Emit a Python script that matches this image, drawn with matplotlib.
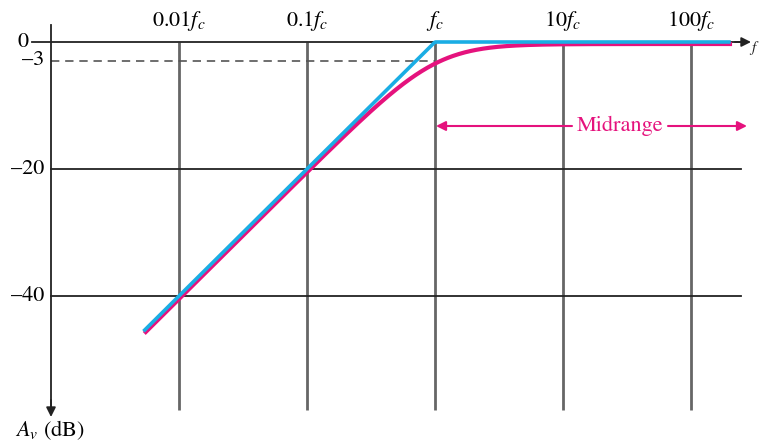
import numpy as np
import matplotlib.pyplot as plt
import matplotlib.transforms as mtransforms

plt.rcParams['font.family'] = ['STIXGeneral', 'DejaVu Serif']
plt.rcParams['mathtext.fontset'] = 'stix'

# decade grid (in units of fc) and their labels
decades = [0.01, 0.1, 1, 10, 100]
decade_labels = [r'$0.01f_c$', r'$0.1f_c$', r'$f_c$', r'$10f_c$', r'$100f_c$']
# dB levels shown on the vertical axis
db_levels = [0, -3, -20, -40]
db_labels = ['0', '\u20133', '\u201320', '\u201340']

# frequency range of the response curves (f/fc)
f_start = 0.0054
f_end = 198

blue = '#1AADE4'
magenta = '#E5127D'

fig = plt.figure(figsize=(7.61, 4.43), dpi=100)
ax = fig.add_axes([0, 0, 1, 1])
ax.set_xscale('log')
# pixel mapping: x = 51 + 128*(log10 f + 3), y = 42 - 6.35*dB
ax.set_xlim(10 ** (-3 - 51 / 128), 10 ** (-3 + 710 / 128))
ax.set_ylim(-401 / 6.35, 42 / 6.35)
ax.axis('off')


def fx(px):
    # frequency (f/fc) at a horizontal pixel position
    return 10 ** (-3 + (px - 51) / 128)


def dby(py):
    # dB at a vertical pixel position
    return (42 - py) / 6.35


f_axis = 0.001
db_bottom = dby(410)

# vertical gridlines at decades
for d in decades:
    ax.plot([d, d], [0, db_bottom], color='#666666', lw=2, solid_capstyle='butt', zorder=1)

# horizontal lines -20 and -40
for lv in [-20, -40]:
    ax.plot([f_axis, fx(741)], [lv, lv], color='#222222', lw=1.3, zorder=1)

# -3 dashed line
ax.plot([f_axis, 1], [-3, -3], color='#555555', lw=1.2, dashes=(5, 3.5), zorder=1)

# horizontal axis (0 dB) with arrow
ax.plot([fx(32), fx(741)], [0, 0], color='#222222', lw=1.3, zorder=2)
ax.annotate('', xy=(fx(751), 0), xytext=(fx(735), 0),
            arrowprops=dict(arrowstyle='-|>', color='#222222', lw=1.3,
                            mutation_scale=14, shrinkA=0, shrinkB=0))
ax.text(fx(760), dby(48), r'$f$', fontsize=11, ha='right', va='center', color='#222222')

# vertical axis with downward arrow
ax.plot([f_axis, f_axis], [dby(25), dby(410)], color='#222222', lw=1.3, zorder=2)
ax.annotate('', xy=(f_axis, dby(417)), xytext=(f_axis, dby(400)),
            arrowprops=dict(arrowstyle='-|>', color='#222222', lw=1.3,
                            mutation_scale=14, shrinkA=0, shrinkB=0))
ax.text(fx(50), dby(430), r'$A_v$ (dB)', fontsize=16, ha='center', va='center')

# dB labels ("0" sits left of the extended axis line)
for lv, lb in zip(db_levels, db_labels):
    if lv == 0:
        ax.text(fx(29), lv, lb, ha='right', va='center', fontsize=16)
    else:
        ax.annotate(lb, xy=(f_axis, lv), xytext=(-5, 1 if lv == -3 else 0),
                    textcoords='offset points', ha='right', va='center', fontsize=16)

# decade labels on top
for d, lb in zip(decades, decade_labels):
    ax.text(d, dby(21), lb, fontsize=16, ha='center', va='center')

# response curves
f = np.logspace(np.log10(f_start), np.log10(f_end), 600)
actual = -10 * np.log10(1 + (1 / f) ** 2)
ideal = np.where(f < 1, 20 * np.log10(f), 0)

off = mtransforms.offset_copy(ax.transData, fig=fig, x=1.0, y=-2.0, units='dots')
ax.plot(f, actual, color=magenta, lw=3, transform=off, zorder=3)
ax.plot(f, ideal, color=blue, lw=2.6, zorder=4)

# Midrange arrow
y_mid = dby(126)
ax.annotate('', xy=(fx(436), y_mid), xytext=(fx(572), y_mid),
            arrowprops=dict(arrowstyle='-|>', color=magenta, lw=1.5,
                            mutation_scale=14, shrinkA=0, shrinkB=0))
ax.annotate('', xy=(fx(747), y_mid), xytext=(fx(668), y_mid),
            arrowprops=dict(arrowstyle='-|>', color=magenta, lw=1.5,
                            mutation_scale=14, shrinkA=0, shrinkB=0))
ax.text(fx(620), y_mid, 'Midrange', color=magenta, fontsize=16,
        ha='center', va='center')

fig.savefig('out.png', dpi=100)
